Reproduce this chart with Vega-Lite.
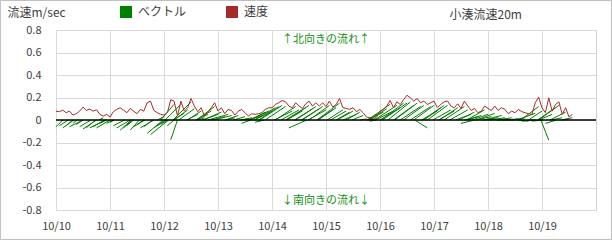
{
"$schema": "https://vega.github.io/schema/vega-lite/v6.json",
"width": 540, "height": 180,
"autosize": "none",
"padding": {"left": 56, "top": 30, "right": 16, "bottom": 30},
"background": "white",
"config": {"font": "Noto Sans CJK JP", "view": {"stroke": "#cfcfcf"}},
"datasets": {"flow": [
{"h":0,"s":0.079,"h2":3,"v":-0.06},{"h":1.5,"s":0.074,"h2":5.5,"v":-0.05},{"h":3,"s":0.088,"h2":8,"v":-0.07},{"h":4.5,"s":0.065,"h2":7.5,"v":-0.05},
{"h":6,"s":0.079,"h2":12,"v":-0.06},{"h":7.5,"s":0.044,"h2":9.5,"v":-0.03},{"h":9,"s":0.056,"h2":12,"v":-0.04},{"h":10.5,"s":0.079,"h2":15.5,"v":-0.06},
{"h":12,"s":0.115,"h2":18,"v":-0.08},{"h":13.5,"s":0.085,"h2":17.5,"v":-0.07},{"h":15,"s":0.097,"h2":22,"v":-0.07},{"h":16.5,"s":0.079,"h2":21.5,"v":-0.06},
{"h":18,"s":0.091,"h2":24,"v":-0.07},{"h":19.5,"s":0.05,"h2":22.5,"v":-0.03},{"h":21,"s":0.035,"h2":19,"v":0.02},{"h":22.5,"s":0.05,"h2":25.5,"v":-0.03},
{"h":24,"s":0.026,"h2":26,"v":-0.02},{"h":25.5,"s":0.074,"h2":30.5,"v":-0.05},{"h":27,"s":0.094,"h2":33,"v":-0.07},{"h":28.5,"s":0.109,"h2":33.5,"v":-0.09},
{"h":30,"s":0.088,"h2":34,"v":-0.07},{"h":31.5,"s":0.065,"h2":34.5,"v":-0.05},{"h":33,"s":0.103,"h2":37,"v":-0.09},{"h":34.5,"s":0.079,"h2":39.5,"v":-0.06},
{"h":36,"s":0.056,"h2":39,"v":-0.04},{"h":37.5,"s":0.094,"h2":43.5,"v":-0.07},{"h":39,"s":0.079,"h2":43,"v":-0.06},{"h":40.5,"s":0.153,"h2":47.5,"v":-0.12},
{"h":42,"s":0.168,"h2":50,"v":-0.13},{"h":43.5,"s":0.085,"h2":48.5,"v":-0.07},{"h":45,"s":0.065,"h2":49,"v":-0.05},{"h":46.5,"s":0.05,"h2":49.5,"v":-0.04},
{"h":48,"s":0.044,"h2":45,"v":0.03},{"h":49.5,"s":0.065,"h2":52.5,"v":-0.05},{"h":51,"s":0.18,"h2":54,"v":-0.175},{"h":52.5,"s":0.168,"h2":46.5,"v":0.14},
{"h":54,"s":0.035,"h2":52,"v":0.02},{"h":55.5,"s":0.168,"h2":48.5,"v":0.14},{"h":57,"s":0.079,"h2":52,"v":0.06},{"h":58.5,"s":0.109,"h2":52.5,"v":0.09},
{"h":60,"s":0.191,"h2":52,"v":0.16},{"h":61.5,"s":0.124,"h2":54.5,"v":0.1},{"h":63,"s":0.074,"h2":58,"v":0.05},{"h":64.5,"s":0.109,"h2":58.5,"v":0.08},
{"h":66,"s":0.035,"h2":63,"v":0.02},{"h":67.5,"s":0.074,"h2":62.5,"v":0.05},{"h":69,"s":0.109,"h2":62,"v":0.08},{"h":70.5,"s":0.153,"h2":62.5,"v":0.12},
{"h":72,"s":0.079,"h2":65,"v":0.05},{"h":73.5,"s":0.109,"h2":65.5,"v":0.07},{"h":75,"s":0.056,"h2":69,"v":0.03},{"h":76.5,"s":0.094,"h2":67.5,"v":0.05},
{"h":78,"s":0.085,"h2":70,"v":0.04},{"h":79.5,"s":0.044,"h2":75.5,"v":0.02},{"h":81,"s":0.079,"h2":75,"v":0.04},{"h":82.5,"s":0.094,"h2":86.5,"v":-0.03},
{"h":84,"s":0.065,"h2":79,"v":0.03},{"h":85.5,"s":0.035,"h2":82.5,"v":0.01},{"h":87,"s":0.056,"h2":82,"v":0.02},{"h":88.5,"s":0.05,"h2":92.5,"v":-0.02},
{"h":90,"s":0.056,"h2":85,"v":0.03},{"h":91.5,"s":0.065,"h2":85.5,"v":0.04},{"h":93,"s":0.094,"h2":86,"v":0.07},{"h":94.5,"s":0.109,"h2":86.5,"v":0.08},
{"h":96,"s":0.109,"h2":88,"v":0.08},{"h":97.5,"s":0.138,"h2":88.5,"v":0.11},{"h":99,"s":0.153,"h2":90,"v":0.12},{"h":100.5,"s":0.174,"h2":90.5,"v":0.13},
{"h":102,"s":0.162,"h2":93,"v":0.12},{"h":103.5,"s":0.124,"h2":111.5,"v":-0.07},{"h":105,"s":0.109,"h2":97,"v":0.08},{"h":106.5,"s":0.153,"h2":97.5,"v":0.12},
{"h":108,"s":0.124,"h2":100,"v":0.09},{"h":109.5,"s":0.103,"h2":102.5,"v":0.08},{"h":111,"s":0.144,"h2":102,"v":0.11},{"h":112.5,"s":0.168,"h2":102.5,"v":0.13},
{"h":114,"s":0.124,"h2":106,"v":0.1},{"h":115.5,"s":0.153,"h2":106.5,"v":0.12},{"h":117,"s":0.124,"h2":109,"v":0.1},{"h":118.5,"s":0.153,"h2":109.5,"v":0.12},
{"h":120,"s":0.12,"h2":112,"v":0.09},{"h":121.5,"s":0.168,"h2":112.5,"v":0.13},{"h":123,"s":0.115,"h2":116,"v":0.09},{"h":124.5,"s":0.138,"h2":116.5,"v":0.11},
{"h":126,"s":0.191,"h2":116,"v":0.15},{"h":127.5,"s":0.109,"h2":120.5,"v":0.09},{"h":129,"s":0.103,"h2":122,"v":0.08},{"h":130.5,"s":0.094,"h2":124.5,"v":0.07},
{"h":132,"s":0.109,"h2":125,"v":0.08},{"h":133.5,"s":0.074,"h2":127.5,"v":0.05},{"h":135,"s":0.094,"h2":129,"v":0.07},{"h":136.5,"s":0.065,"h2":131.5,"v":0.04},
{"h":138,"s":0.026,"h2":135,"v":0.01},{"h":139.5,"s":0.021,"h2":142.5,"v":-0.01},{"h":141,"s":0.01,"h2":139,"v":0.005},{"h":142.5,"s":0.026,"h2":139.5,"v":0.01},
{"h":144,"s":0.079,"h2":138,"v":0.06},{"h":145.5,"s":0.094,"h2":138.5,"v":0.07},{"h":147,"s":0.124,"h2":139,"v":0.1},{"h":148.5,"s":0.174,"h2":138.5,"v":0.14},
{"h":150,"s":0.109,"h2":142,"v":0.08},{"h":151.5,"s":0.162,"h2":141.5,"v":0.13},{"h":153,"s":0.138,"h2":144,"v":0.11},{"h":154.5,"s":0.182,"h2":144.5,"v":0.15},
{"h":156,"s":0.22,"h2":145,"v":0.15},{"h":157.5,"s":0.197,"h2":147.5,"v":0.16},{"h":159,"s":0.168,"h2":150,"v":0.13},{"h":160.5,"s":0.191,"h2":150.5,"v":0.15},
{"h":162,"s":0.153,"h2":153,"v":0.12},{"h":163.5,"s":0.168,"h2":154.5,"v":0.13},{"h":165,"s":0.138,"h2":159.5,"v":-0.07},{"h":166.5,"s":0.153,"h2":157.5,"v":0.12},
{"h":168,"s":0.168,"h2":159,"v":0.13},{"h":169.5,"s":0.109,"h2":162.5,"v":0.08},{"h":171,"s":0.138,"h2":163,"v":0.11},{"h":172.5,"s":0.162,"h2":163.5,"v":0.13},
{"h":174,"s":0.168,"h2":165,"v":0.13},{"h":175.5,"s":0.124,"h2":167.5,"v":0.09},{"h":177,"s":0.109,"h2":170,"v":0.08},{"h":178.5,"s":0.144,"h2":170.5,"v":0.11},
{"h":180,"s":0.103,"h2":186,"v":-0.03},{"h":181.5,"s":0.168,"h2":172.5,"v":0.12},{"h":183,"s":0.124,"h2":175,"v":0.09},{"h":184.5,"s":0.085,"h2":177.5,"v":0.05},
{"h":186,"s":0.103,"h2":179,"v":0.07},{"h":187.5,"s":0.065,"h2":181.5,"v":0.03},{"h":189,"s":0.079,"h2":183,"v":0.04},{"h":190.5,"s":0.124,"h2":182.5,"v":0.09},
{"h":192,"s":0.103,"h2":185,"v":0.05},{"h":193.5,"s":0.085,"h2":186.5,"v":0.03},{"h":195,"s":0.124,"h2":187,"v":0.06},{"h":196.5,"s":0.085,"h2":189.5,"v":0.02},
{"h":198,"s":0.109,"h2":190,"v":0.04},{"h":199.5,"s":0.094,"h2":192.5,"v":0.02},{"h":201,"s":0.056,"h2":196,"v":0.01},{"h":202.5,"s":0.079,"h2":196.5,"v":0.02},
{"h":204,"s":0.065,"h2":198,"v":0},{"h":205.5,"s":0.094,"h2":198.5,"v":0.01},{"h":207,"s":0.074,"h2":213,"v":-0.01},{"h":208.5,"s":0.065,"h2":202.5,"v":0.02},
{"h":210,"s":0.056,"h2":205,"v":-0.01},{"h":211.5,"s":0.05,"h2":216.5,"v":-0.01},{"h":213,"s":0.153,"h2":205,"v":0.06},{"h":214.5,"s":0.203,"h2":206.5,"v":0.12},
{"h":216,"s":0.109,"h2":210,"v":0.08},{"h":217.5,"s":0.065,"h2":222.5,"v":-0.03},{"h":219,"s":0.197,"h2":215.5,"v":-0.18},{"h":220.5,"s":0.079,"h2":214.5,"v":0.05},
{"h":222,"s":0.138,"h2":214,"v":0.11},{"h":223.5,"s":0.162,"h2":214.5,"v":0.13},{"h":225,"s":0.05,"h2":220,"v":0.02},{"h":226.5,"s":0.109,"h2":219.5,"v":0.07},
{"h":228,"s":0.026,"h2":225,"v":0.01},{"h":229.5,"s":0.05,"h2":224.5,"v":0.02}
]},
"layer": [
{"data": {"name": "flow"},
 "mark": {"type": "rule", "strokeWidth": 1},
 "encoding": {
  "x": {"field": "h", "type": "quantitative",
        "scale": {"domain": [0, 240], "nice": false, "zero": false},
        "axis": {"values": [0,24,48,72,96,120,144,168,192,216], "tickCount": 10, "labelExpr": "'10/' + (10 + round(datum.value/24))",
                 "grid": true, "gridColor": "#d9d9d9", "domain": false, "ticks": false, "labelPadding": 10,
                 "labelFontSize": 11, "labelColor": "#404040", "title": null, "labelFlush": false, "labelOverlap": false}},
  "x2": {"field": "h2"},
  "y": {"field": "v", "type": "quantitative",
        "scale": {"domain": [-0.8, 0.8], "nice": false},
        "axis": {"values": [-0.8,-0.6,-0.4,-0.2,0,0.2,0.4,0.6,0.8], "tickCount": 9, "labelExpr": "toString(round(datum.value*10)/10)",
                 "grid": true, "gridColor": "#d9d9d9", "domain": false, "ticks": false, "labelPadding": 15,
                 "labelFontSize": 11, "labelColor": "#404040", "labelFlush": false, "labelOverlap": false,
                 "title": "流速m/sec", "titleAngle": 0, "titleX": -49, "titleY": -18, "titleAlign": "left",
                 "titleBaseline": "middle", "titleFontSize": 12, "titleFontWeight": "normal", "titleColor": "#404040"}},
  "y2": {"datum": 0},
  "color": {"datum": "ベクトル", "type": "nominal",
            "scale": {"domain": ["ベクトル", "速度"], "range": ["#008000", "#a52a2a"]},
            "legend": {"orient": "none", "legendX": 64, "legendY": -24, "direction": "horizontal", "title": null,
                       "symbolType": "square", "symbolSize": 36, "symbolStrokeWidth": 6, "labelFontSize": 12, "labelOffset": 6,
                       "columnPadding": 30, "padding": 0, "labelColor": "#404040"}}
 }},
{"data": {"values": [{}]},
 "mark": {"type": "rule", "color": "#000000", "strokeWidth": 1.5},
 "encoding": {"y": {"datum": 0}}},
{"data": {"name": "flow"},
 "mark": {"type": "line", "strokeWidth": 1},
 "encoding": {
  "x": {"field": "h", "type": "quantitative",
        "axis": {"values": [0,24,48,72,96,120,144,168,192,216], "tickCount": 10, "labelExpr": "'10/' + (10 + round(datum.value/24))",
                 "grid": true, "gridColor": "#d9d9d9", "domain": false, "ticks": false, "labelPadding": 10,
                 "labelFontSize": 11, "labelColor": "#404040", "title": null, "labelFlush": false, "labelOverlap": false}},
  "y": {"field": "s", "type": "quantitative",
        "axis": {"values": [-0.8,-0.6,-0.4,-0.2,0,0.2,0.4,0.6,0.8], "tickCount": 9, "labelExpr": "toString(round(datum.value*10)/10)",
                 "grid": true, "gridColor": "#d9d9d9", "domain": false, "ticks": false, "labelPadding": 15,
                 "labelFontSize": 11, "labelColor": "#404040", "labelFlush": false, "labelOverlap": false,
                 "title": "流速m/sec", "titleAngle": 0, "titleX": -49, "titleY": -18, "titleAlign": "left",
                 "titleBaseline": "middle", "titleFontSize": 12, "titleFontWeight": "normal", "titleColor": "#404040"}},
  "color": {"datum": "速度", "type": "nominal"}
 }},
{"data": {"values": [{}]},
 "mark": {"type": "text", "text": "↑北向きの流れ↑", "color": "#109010", "fontSize": 11},
 "encoding": {"x": {"datum": 120}, "y": {"datum": 0.71}}},
{"data": {"values": [{}]},
 "mark": {"type": "text", "text": "↓南向きの流れ↓", "color": "#109010", "fontSize": 11},
 "encoding": {"x": {"datum": 120}, "y": {"datum": -0.72}}},
{"data": {"values": [{}]},
 "mark": {"type": "text", "text": "小湊流速20m", "color": "#404040", "fontSize": 12},
 "encoding": {"x": {"datum": 191}, "y": {"datum": 0.935}}},
{"data": {"values": [{}]},
 "mark": {"type": "rect", "filled": false, "stroke": "#bfbfbf", "strokeWidth": 1, "clip": false},
 "encoding": {"x": {"datum": -24.7}, "x2": {"datum": 246.9}, "y": {"datum": 1.062}, "y2": {"datum": -1.062}}}
]
}
